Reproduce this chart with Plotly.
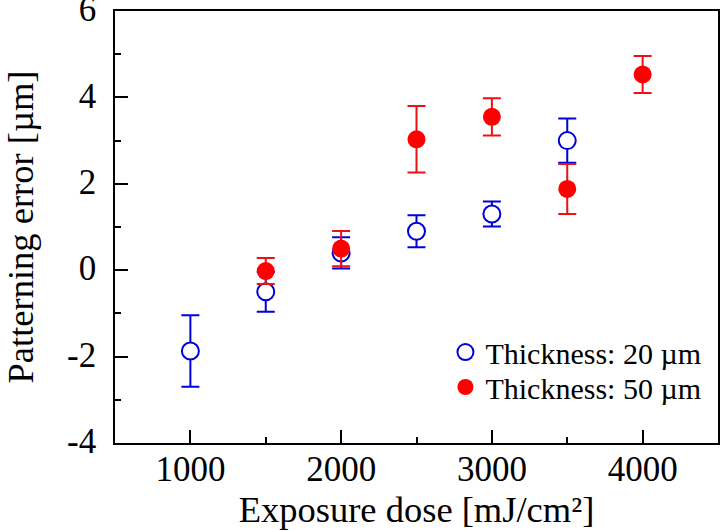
import plotly.graph_objects as go

dose = [1000, 1500, 2000, 2500, 3000, 3500]
err20 = [-1.87, -0.50, 0.40, 0.90, 1.30, 3.00]
err20_sd = [0.83, 0.46, 0.36, 0.37, 0.29, 0.51]

dose50 = [1500, 2000, 2500, 3000, 3500, 4000]
err50 = [-0.02, 0.50, 3.03, 3.55, 1.88, 4.53]
err50_sd = [0.30, 0.41, 0.77, 0.43, 0.58, 0.43]

x_ticks = [1000, 2000, 3000, 4000]
y_ticks = [-4, -2, 0, 2, 4, 6]
y_ticktext = ["-4", "-2", "0", "2", "4", "6"]

FONT = "Liberation Serif"

fig = go.Figure()
fig.add_trace(go.Scatter(
    x=dose, y=err20, mode="markers", name="Thickness: 20 \u00b5m",
    marker=dict(symbol="circle", size=17, color="white", line=dict(color="#0000dd", width=2)),
    error_y=dict(type="data", array=err20_sd, visible=True, color="#0000dd", thickness=2, width=9),
    legend="legend",
))
fig.add_trace(go.Scatter(
    x=dose50, y=err50, mode="markers", name="Thickness: 50 \u00b5m",
    marker=dict(symbol="circle", size=18, color="#ff0000", line=dict(width=0)),
    error_y=dict(type="data", array=err50_sd, visible=True, color="#ee1111", thickness=2, width=9),
    legend="legend2",
))

leg_common = dict(xanchor="left", yanchor="middle", bgcolor="rgba(0,0,0,0)",
                  font=dict(size=30, family=FONT), itemwidth=30, borderwidth=0)

fig.update_layout(
    width=720, height=530,
    margin=dict(l=115, r=2, t=11, b=87, autoexpand=False),
    paper_bgcolor="white", plot_bgcolor="white",
    font=dict(family=FONT, color="black", size=35),
    showlegend=True,
    legend=dict(x=0.548, y=0.2106, **leg_common),
    legend2=dict(x=0.548, y=0.1296, **leg_common),
)
fig.update_xaxes(
    range=[500, 4500], tickmode="array", tickvals=x_ticks,
    ticks="inside", ticklen=13, tickwidth=1.5, tickcolor="black",
    minor=dict(ticks="inside", ticklen=6, dtick=500, tick0=500, tickwidth=1.5, tickcolor="black"),
    showline=True, linecolor="black", linewidth=1.5, mirror=True,
    showgrid=False, zeroline=False, automargin=False,
    tickfont=dict(size=35, family=FONT),
    ticklabelstandoff=-6,
    ticklabeloverflow="allow",
    title=dict(text="Exposure dose [mJ/cm\u00b2]", font=dict(size=36.5, family=FONT), standoff=10),
)
fig.update_yaxes(
    range=[-4, 6], tickmode="array", tickvals=y_ticks, ticktext=y_ticktext,
    ticks="inside", ticklen=13, tickwidth=1.5, tickcolor="black",
    minor=dict(ticks="inside", ticklen=6, dtick=1, tick0=-4, tickwidth=1.5, tickcolor="black"),
    showline=True, linecolor="black", linewidth=1.5, mirror=True,
    showgrid=False, zeroline=False, automargin=False,
    tickfont=dict(size=35, family=FONT),
    ticklabelstandoff=10,
    ticklabelshift=-2,
    ticklabeloverflow="allow",
    title=dict(text="Patterning error [\u00b5m]", font=dict(size=36.5, family=FONT), standoff=45),
)

fig.write_html("out.html", config={"displayModeBar": False},
               post_script="document.body.style.margin='0';")
